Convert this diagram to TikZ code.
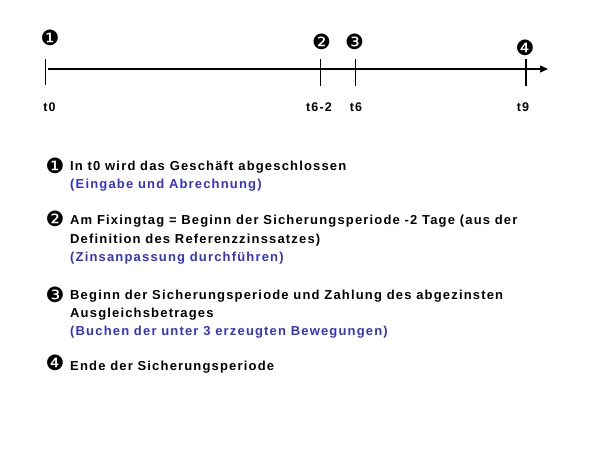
\documentclass[tikz,border=0pt]{standalone}
\usepackage{fontspec}
\setmainfont{Liberation Sans}[LetterSpace=9]
\newfontfamily\dingfont{DejaVu Sans}
\usetikzlibrary{arrows.meta}
\definecolor{noteblue}{RGB}{51,51,204}
\begin{document}
\begin{tikzpicture}[x=1pt,y=-1pt,
  axis/.style={line width=1.3pt,-{Triangle[length=8pt,width=7pt]}},
  tick/.style={line width=1.3pt},
  tlabel/.style={font=\fontsize{12.5}{14}\selectfont\bfseries,inner sep=0pt,anchor=base},
  marker/.style={font=\fontsize{21}{21}\dingfont,inner sep=0pt},
  lmarker/.style={font=\fontsize{21}{21}\dingfont,inner sep=0pt},
  desc/.style={font=\fontsize{13}{18.5}\selectfont\bfseries,inner sep=0pt,anchor=base west},
  note/.style={desc,text=noteblue}]
\useasboundingbox (0,0) rectangle (599,449);
% timeline
\coordinate (start) at (48,69);
\coordinate (end) at (548,69);
\draw[axis] (start) -- (end);
\coordinate (a1) at (45,59); \coordinate (a2) at (45,85);
\coordinate (b1) at (320.5,59); \coordinate (b2) at (320.5,86);
\coordinate (c1) at (355.5,59); \coordinate (c2) at (355.5,86);
\coordinate (d1) at (526,59); \coordinate (d2) at (526,86);
\draw[line width=0.9pt] (a1) -- (a2);
\draw[tick] (b1) -- (b2);
\draw[tick] (c1) -- (c2);
\draw[tick] (d1) -- (d2);
% tick labels
\node[tlabel] (t0) at (49.5,112) {t0};
\node[tlabel] (t62) at (319,112) {t6-2};
\node[tlabel] (t6) at (356,112) {t6};
\node[tlabel] (t9) at (523,112) {t9};
% markers above
\node[marker] (m1) at (50,38) {❶};
\node[marker] (m2) at (321.5,42) {❷};
\node[marker] (m3) at (354.5,42) {❸};
\node[marker] (m4) at (525,48) {❹};
% descriptions
\node[lmarker] (l1) at (55,166) {❶};
\node[desc] (d1a) at (70,170.5) {In t0 wird das Geschäft abgeschlossen};
\node[note] (d1b) at (70,189) {(Eingabe und Abrechnung)};
\node[lmarker] (l2) at (55,219) {❷};
\node[desc] (d2a) at (70,224.5) {Am Fixingtag = Beginn der Sicherungsperiode -2 Tage (aus der};
\node[desc] (d2b) at (70,243) {Definition des Referenzzinssatzes)};
\node[note] (d2c) at (70,261.5) {(Zinsanpassung durchführen)};
\node[lmarker] (l3) at (55,294.5) {❸};
\node[desc] (d3a) at (70,299) {Beginn der Sicherungsperiode und Zahlung des abgezinsten};
\node[desc] (d3b) at (70,317) {Ausgleichsbetrages};
\node[note] (d3c) at (70,335) {(Buchen der unter 3 erzeugten Bewegungen)};
\node[lmarker] (l4) at (55,363) {❹};
\node[desc] (d4a) at (70,370) {Ende der Sicherungsperiode};
\end{tikzpicture}
\end{document}
